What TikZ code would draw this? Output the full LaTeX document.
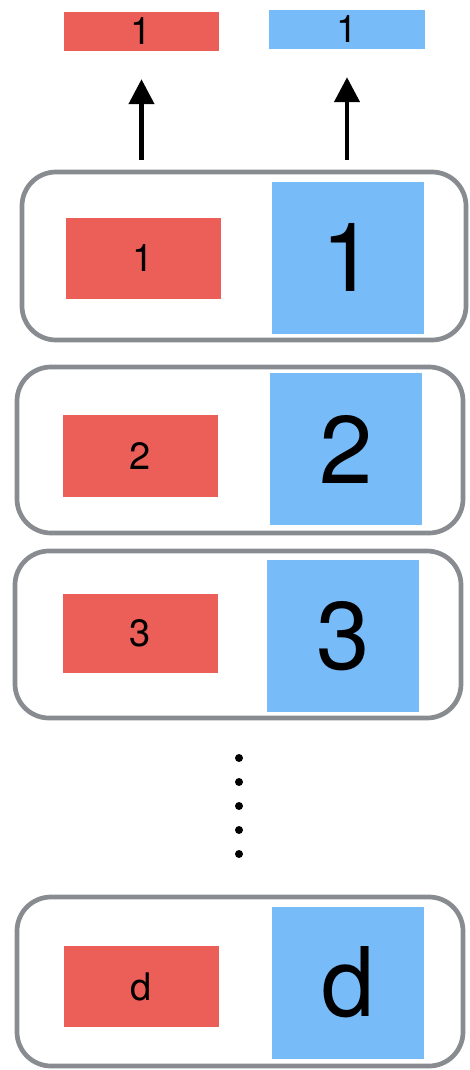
\documentclass[tikz,border=0pt]{standalone}
\usepackage{fontspec}
\setmainfont{TeX Gyre Heros}
\usepackage{tikz}
\usetikzlibrary{arrows.meta, positioning}
\definecolor{rojo}{HTML}{EC5E58}
\definecolor{azul}{HTML}{77BBF9}
\definecolor{borde}{HTML}{888B8F}

\begin{document}
\begin{tikzpicture}[x=1pt, y=-1pt,
      fila/.style={draw=borde, line width=4.7pt, rounded corners=34pt, inner sep=0pt},
      r/.style={fill=rojo, inner sep=0pt, minimum width=155pt, font=\fontsize{38}{40}\selectfont},
      a/.style={fill=azul, inner sep=0pt, minimum width=152pt, minimum height=152pt, font=\fontsize{96}{100}\selectfont},
      sube/.style={-{Triangle[width=25pt, length=25pt]}, line width=4.5pt, shorten <=10pt, shorten >=28pt}]
    \useasboundingbox (0,0) rectangle (469,1070);
    % filas
    \node[fila, minimum width=444pt, minimum height=168pt] (f1) at (244,256) {};
    \node[fila, minimum width=446pt, minimum height=166pt] (f2) at (240,450) {};
    \node[fila, minimum width=446pt, minimum height=167pt] (f3) at (238,634.5) {};
    \node[fila, minimum width=446pt, minimum height=169pt] (fd) at (240,981.5) {};
    % claves y valores
    \node[r, minimum height=81pt] (r1) at (143,258.5) {1};
    \node[a] (a1) at (348,257.5) {1};
    \node[r, minimum height=82pt] (r2) at (140,456) {2};
    \node[a] (a2) at (346,449) {2};
    \node[r, minimum height=79pt] (r3) at (140,633.5) {3};
    \node[a] (a3) at (343,636) {3};
    \node[r, minimum height=81pt] (rd) at (141.5,986.5) {d};
    \node[a] (ad) at (348,982.5) {d};
    % salida
    \node[r, minimum height=39pt] (rs) at (141.5,31.5) {1};
    \node[a, minimum width=156pt, minimum height=39pt, font=\fontsize{38}{40}\selectfont] (as) at (347,29.5) {1};
    \draw[sube] (f1.north -| rs) -- (rs);
    \draw[sube] (f1.north -| as) -- (as);
    % puntos
    \foreach \y in {758,782,806,830,854}
      \fill (239,\y) circle (4pt);
  \end{tikzpicture}
\end{document}
